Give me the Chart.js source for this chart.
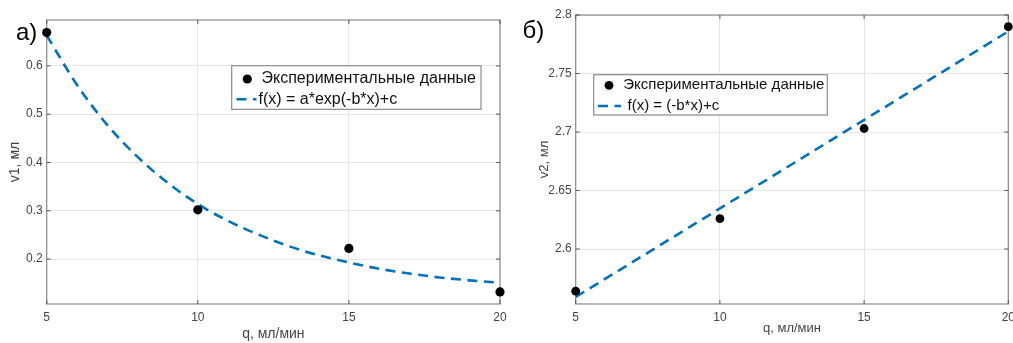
<!DOCTYPE html>
<html><head><meta charset="utf-8">
<script src="https://cdn.jsdelivr.net/npm/chart.js@4.4.1/dist/chart.umd.min.js"></script>
<style>html,body{margin:0;padding:0;background:#fff;width:1013px;height:343px;overflow:hidden}
canvas{position:absolute;left:0;top:0}</style></head>
<body>
<canvas id="c1" width="1013" height="343"></canvas>
<canvas id="c2" width="1013" height="343"></canvas>
<script>
// ---- data ----
const xTicks = [5, 10, 15, 20];
const qExp = [5, 10, 15, 20];
const v1Exp = [0.669, 0.302, 0.222, 0.132];
const qFit1 = [5, 6, 7, 8, 9, 10, 11, 12, 13, 14, 15, 16, 17, 18, 19, 20];
const v1Fit = [0.663, 0.561, 0.478, 0.412, 0.358, 0.314, 0.279, 0.251, 0.227, 0.208, 0.193, 0.180, 0.170, 0.162, 0.156, 0.151];
const v1Ticks = [0.2, 0.3, 0.4, 0.5, 0.6];
const v2Exp = [2.564, 2.626, 2.703, 2.790];
const qFit2 = [5, 20];
const v2Fit = [2.559, 2.786];
const v2Ticks = [2.6, 2.65, 2.7, 2.75, 2.8];
const expLabel = 'Экспериментальные данные';
const fitLabel1 = 'f(x) = a*exp(-b*x)+c';
const fitLabel2 = 'f(x) = (-b*x)+c';
const xTitle = 'q, мл/мин';
const y1Title = 'v1, мл';
const y2Title = 'v2, мл';

const FONT = "'Liberation Sans', Arial, sans-serif";
const BLUE = '#0072BD';

const decor = {
  id: 'decor',
  beforeDatasetsDraw(chart, args, o) {
    const {ctx, chartArea: a} = chart;
    const xs = chart.scales.x, ys = chart.scales.y;
    ctx.save();
    ctx.strokeStyle = '#8a8a8a';
    ctx.lineWidth = 1.2;
    ctx.strokeRect(a.left, a.top, a.right - a.left, a.bottom - a.top);
    ctx.strokeStyle = '#555';
    ctx.lineWidth = 1;
    ctx.beginPath();
    xs.ticks.forEach(t => {
      const p = xs.getPixelForValue(t.value);
      ctx.moveTo(p, a.bottom); ctx.lineTo(p, a.bottom - 4);
      ctx.moveTo(p, a.top); ctx.lineTo(p, a.top + 4);
    });
    ys.ticks.forEach(t => {
      const p = ys.getPixelForValue(t.value);
      ctx.moveTo(a.left, p); ctx.lineTo(a.left + 4, p);
      ctx.moveTo(a.right, p); ctx.lineTo(a.right - 4, p);
    });
    ctx.stroke();
    ctx.restore();
  },
  afterDatasetsDraw(chart, args, o) {
    const ctx = chart.ctx;
    const L = o.legend;
    const ds = chart.data.datasets;
    ctx.save();
    ctx.fillStyle = '#fff';
    ctx.fillRect(L.x, L.y, L.w, L.h);
    ctx.strokeStyle = '#8a8a8a';
    ctx.lineWidth = 1.2;
    ctx.strokeRect(L.x, L.y, L.w, L.h);
    // row 1: marker
    ctx.fillStyle = ds[0].pointBackgroundColor;
    ctx.beginPath();
    ctx.arc(L.dotX, L.row1, ds[0].pointRadius, 0, Math.PI * 2);
    ctx.fill();
    // row 2: dashed line
    ctx.strokeStyle = ds[1].borderColor;
    ctx.lineWidth = ds[1].borderWidth;
    ctx.setLineDash(ds[1].borderDash);
    ctx.beginPath();
    ctx.moveTo(L.lineX0, L.row2);
    ctx.lineTo(L.lineX1, L.row2);
    ctx.stroke();
    ctx.setLineDash([]);
    ctx.fillStyle = '#111';
    ctx.font = L.font + 'px ' + FONT;
    ctx.textBaseline = 'middle';
    ctx.textAlign = 'left';
    ctx.fillText(ds[0].label, L.text1X, L.row1);
    ctx.fillText(ds[1].label, L.text2X, L.row2);
    // panel label
    ctx.font = o.panel.size + 'px ' + FONT;
    ctx.textBaseline = 'alphabetic';
    ctx.fillStyle = '#000';
    ctx.fillText(o.panel.text, o.panel.x, o.panel.y);
    ctx.restore();
  }
};

function makeChart(id, cfg) {
  const tickFix = vals => s => { s.ticks = vals.map(v => ({value: v})); };
  return new Chart(document.getElementById(id), {
    type: 'scatter',
    data: {
      datasets: [
        {label: expLabel, data: qExp.map((q, i) => ({x: q, y: cfg.exp[i]})), pointRadius: cfg.r, pointHoverRadius: cfg.r,
         pointBackgroundColor: '#000', pointBorderWidth: 0, showLine: false, clip: false, order: 0},
        {label: cfg.fitLabel, data: cfg.fitX.map((q, i) => ({x: q, y: cfg.fit[i]})), showLine: true, pointRadius: 0,
         borderColor: BLUE, borderWidth: 2.6, borderDash: [10, 6.5], tension: 0.4, cubicInterpolationMode: 'monotone', clip: false, order: 1}
      ]
    },
    options: {
      responsive: false, animation: false, events: [],
      layout: {padding: cfg.pad},
      plugins: {legend: {display: false}, tooltip: {enabled: false}, decor: {legend: cfg.legend, panel: cfg.panel}},
      scales: {
        x: {type: 'linear', min: 5, max: 20,
            afterBuildTicks: tickFix(xTicks),
            afterFit: s => { s.height = 39; s.paddingLeft = 0; s.paddingRight = 0; s.paddingTop = 0; s.paddingBottom = 0; },
            grid: {color: '#e6e6e6', drawTicks: false, lineWidth: 1},
            border: {display: false},
            ticks: {color: '#444', font: {size: cfg.tickSize, family: FONT}, padding: 6, maxRotation: 0, autoSkip: false},
            title: {display: true, text: xTitle, color: '#444', font: {size: cfg.titleSize, family: FONT}, padding: {top: 0, bottom: cfg.xTitlePad}}},
        y: {type: 'linear', min: cfg.ymin, max: cfg.ymax,
            afterBuildTicks: tickFix(cfg.yTicks),
            afterFit: s => { s.width = cfg.yWidth; s.paddingLeft = 0; s.paddingRight = 0; s.paddingTop = 0; s.paddingBottom = 0; },
            grid: {color: '#e6e6e6', drawTicks: false, lineWidth: 1},
            border: {display: false},
            ticks: {color: '#444', font: {size: cfg.tickSize, family: FONT}, padding: 4, autoSkip: false,
                    callback: v => String(v)},
            title: {display: true, text: cfg.yTitle, color: '#444', font: {size: cfg.titleSize, family: FONT}, padding: {top: cfg.yTitlePad, bottom: 0}}}
      }
    },
    plugins: [decor]
  });
}

makeChart('c1', {
  exp: v1Exp, fitX: qFit1, fit: v1Fit, fitLabel: fitLabel1, r: 4.6,
  ymin: 0.107, ymax: 0.695, yTicks: v1Ticks, yTitle: y1Title,
  pad: {left: 0, top: 20, right: 513, bottom: 0}, yWidth: 46.7,
  tickSize: 12, titleSize: 14, xTitlePad: 0, yTitlePad: 7,
  legend: {x: 231.7, y: 65.7, w: 249.3, h: 43.6, dotX: 247.3, row1: 79, row2: 99.3, lineX0: 236.5, lineX1: 256.5, text1X: 261.5, text2X: 258.5, font: 16},
  panel: {text: 'а)', x: 16, y: 39.5, size: 24}
});
makeChart('c2', {
  exp: v2Exp, fitX: qFit2, fit: v2Fit, fitLabel: fitLabel2, r: 4.4,
  ymin: 2.553, ymax: 2.8, yTicks: v2Ticks, yTitle: y2Title,
  pad: {left: 515.7, top: 15, right: 4.7, bottom: 0}, yWidth: 60,
  tickSize: 12, titleSize: 13, xTitlePad: 7, yTitlePad: 21,
  legend: {x: 593.7, y: 74.7, w: 233.6, h: 40.3, dotX: 609, row1: 85.3, row2: 106, lineX0: 598, lineX1: 621, text1X: 623.3, text2X: 627.5, font: 15},
  panel: {text: 'б)', x: 522.5, y: 37.5, size: 24}
});
</script>
</body></html>
